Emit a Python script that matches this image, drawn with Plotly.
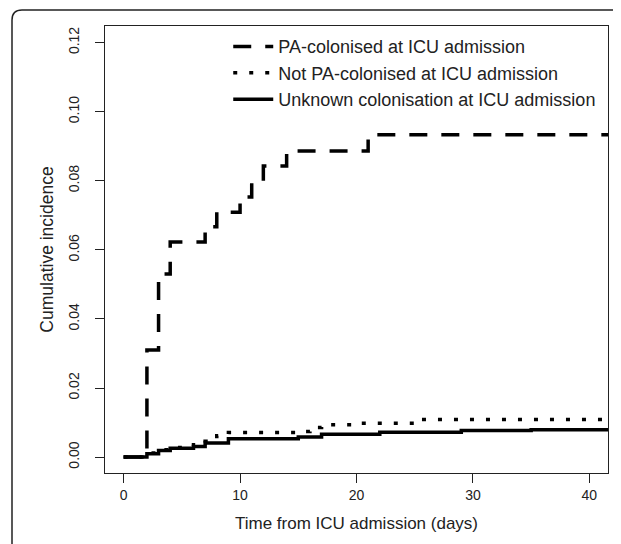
import plotly.graph_objects as go

# Data (step functions)
pa_days = [0, 2, 3, 4, 7, 8, 10, 11, 12, 14, 21, 42]
pa_vals = [0, 0.031, 0.053, 0.0623, 0.0667, 0.0709, 0.0753, 0.0798, 0.0843, 0.0886, 0.0933, 0.0933]

notpa_days = [0, 2, 3, 4, 5, 6, 7, 8, 9, 15, 16, 17, 20, 25, 42]
notpa_vals = [0, 0.0012, 0.0021, 0.0028, 0.0032, 0.0036, 0.0046, 0.0062, 0.0071, 0.0074, 0.0086, 0.0094, 0.0098, 0.0109, 0.0109]

unk_days = [0, 2, 3, 4, 6, 7, 9, 15, 17, 22, 29, 35, 42]
unk_vals = [0, 0.001, 0.0019, 0.0026, 0.0031, 0.0041, 0.0053, 0.0058, 0.0066, 0.0072, 0.0077, 0.0079, 0.0079]

names = ["PA-colonised at ICU admission",
         "Not PA-colonised at ICU admission",
         "Unknown colonisation at ICU admission"]
x_ticks = [0, 10, 20, 30, 40]
y_ticks = [0.00, 0.02, 0.04, 0.06, 0.08, 0.10, 0.12]

FONT = "Liberation Sans, Arial, sans-serif"

fig = go.Figure()
fig.add_trace(go.Scatter(x=pa_days, y=pa_vals, mode="lines", name=names[0],
                         line=dict(color="black", width=3.5, dash="18px,14px", shape="hv")))
fig.add_trace(go.Scatter(x=notpa_days, y=notpa_vals, mode="lines", name=names[1],
                         line=dict(color="black", width=3.5, dash="4px,12px", shape="hv")))
fig.add_trace(go.Scatter(x=unk_days, y=unk_vals, mode="lines", name=names[2],
                         line=dict(color="black", width=3.5, shape="hv")))

# page body has an 8px margin: compensate in the plot margins
fig.update_layout(
    width=621, height=544,
    margin=dict(l=97, r=21, t=18, b=79),
    paper_bgcolor="white", plot_bgcolor="white",
    font=dict(family=FONT, color="#222", size=14),
    showlegend=True,
    legend=dict(x=0.245, y=0.995, xanchor="left", yanchor="top",
                bgcolor="rgba(0,0,0,0)", borderwidth=0,
                font=dict(size=18, color="#222"), tracegroupgap=0,
                itemwidth=40),
    xaxis=dict(range=[-1.6, 41.6], tickvals=x_ticks, ticktext=[str(v) for v in x_ticks],
               showgrid=False, zeroline=False, showline=True, mirror=True,
               linecolor="#222", linewidth=1, ticks="outside", ticklen=9,
               tickcolor="#222", tickfont=dict(size=14),
               title=dict(text="Time from ICU admission (days)", font=dict(size=17), standoff=15)),
    yaxis=dict(range=[-0.0046, 0.1248], tickvals=y_ticks, ticktext=["%.2f" % v for v in y_ticks],
               tickangle=-90, ticklabelstandoff=10,
               showgrid=False, zeroline=False, showline=True, mirror=True,
               linecolor="#222", linewidth=1, ticks="outside", ticklen=9,
               tickcolor="#222", tickfont=dict(size=14),
               title=dict(text="Cumulative incidence", font=dict(size=17.5), standoff=8)),
    shapes=[dict(type="path", xref="paper", yref="paper", xsizemode="pixel", ysizemode="pixel",
                 xanchor=0, yanchor=1,
                 path="M -93,-560 L -93,6 Q -93,16 -83,16 L 560,16",
                 line=dict(color="#222", width=1.5), fillcolor="rgba(0,0,0,0)")],
)

fig.write_html("out.html")
